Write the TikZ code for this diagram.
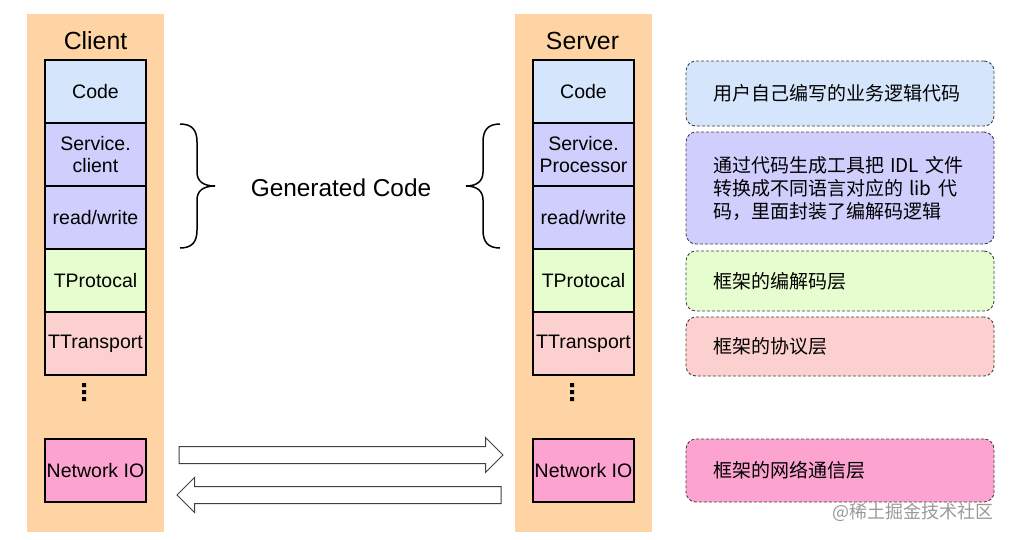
\documentclass[tikz,border=0pt]{standalone}
\usepackage{fontspec}
\setmainfont{Liberation Sans}
\newfontfamily\cjk{Noto Sans CJK SC}
\usetikzlibrary{shapes.arrows}

\definecolor{colbg}{HTML}{FFD4A4}
\definecolor{codeblue}{HTML}{D5E6FC}
\definecolor{genpurple}{HTML}{CFCEFD}
\definecolor{protgreen}{HTML}{E6FDCF}
\definecolor{transpink}{HTML}{FDD0D0}
\definecolor{netpink}{HTML}{FDA3CF}

\tikzset{
	layer/.style={draw, line width=1.4pt, minimum width=101pt, minimum height=63pt, inner sep=0pt, align=center, font=\fontsize{19.5}{22}\selectfont},
	note/.style={draw=black!75, line width=0.9pt, dash pattern=on 3pt off 2pt, rounded corners=10pt, text width=254pt, inner xsep=27pt, inner ysep=0pt, align=left, font=\cjk\fontsize{19}{23}\selectfont},
	blockarrow/.style={single arrow, draw=black!75, fill=white, line width=1pt, minimum height=324pt, inner xsep=0pt, inner ysep=8pt, single arrow head extend=9pt, single arrow head indent=0pt},
}

\begin{document}
\begin{tikzpicture}[x=1pt, y=-1pt]
	\useasboundingbox (0,0) rectangle (1011,539);
	
	% columns
	\node[fill=colbg, minimum width=137pt, minimum height=518pt, inner sep=0pt] (client) at (95.5,273) {};
	\node[fill=colbg, minimum width=137pt, minimum height=518pt, inner sep=0pt] (server) at (583.5,273) {};
	\node[font=\fontsize{24.8}{28}\selectfont] (clientLbl) at (95.5,41) {Client};
	\node[font=\fontsize{24.8}{28}\selectfont] (serverLbl) at (582.5,41) {Server};
	
	% client stack
	\node[layer, fill=codeblue] (cCode) at (95.5,91.5) {Code};
	\node[layer, fill=genpurple] (cSvc) at (95.5,154.5) {Service.\\client};
	\node[layer, fill=genpurple] (cRW) at (95.5,217.5) {read/write};
	\node[layer, fill=protgreen] (cProt) at (95.5,280.5) {TProtocal};
	\node[layer, fill=transpink] (cTrans) at (95.5,343.5) {TTransport};
	\node[layer, fill=netpink] (cNet) at (95.5,470.5) {Network IO};
	
	% server stack
	\node[layer, fill=codeblue] (sCode) at (583.5,91.5) {Code};
	\node[layer, fill=genpurple] (sSvc) at (583.5,154.5) {Service.\\Processor};
	\node[layer, fill=genpurple] (sRW) at (583.5,217.5) {read/write};
	\node[layer, fill=protgreen] (sProt) at (583.5,280.5) {TProtocal};
	\node[layer, fill=transpink] (sTrans) at (583.5,343.5) {TTransport};
	\node[layer, fill=netpink] (sNet) at (583.5,470.5) {Network IO};
	
	% dots
	\fill (82,383) rectangle (86,387) (82,390) rectangle (86,394) (82,397) rectangle (86,401);
	\fill (570,383) rectangle (574,387) (570,390) rectangle (574,394) (570,397) rectangle (574,401);
	
	% braces
	\draw[line width=1.5pt] (180,124) .. controls (192,124) and (197,130) .. (197,142) -- (197,172) .. controls (197,181) and (203,186) .. (215,186) .. controls (203,186) and (197,191) .. (197,200) -- (197,230) .. controls (197,242) and (192,248) .. (180,248);
	\draw[line width=1.5pt] (500,124) .. controls (488,124) and (483,130) .. (483,142) -- (483,172) .. controls (483,181) and (477,186) .. (466,186) .. controls (477,186) and (483,191) .. (483,200) -- (483,230) .. controls (483,242) and (488,248) .. (500,248);
	\node[font=\fontsize{24.4}{28}\selectfont] (gen) at (341,188) {Generated Code};
	
	% network arrows
	\node[blockarrow, anchor=tail] (toServer) at (178.5,455) {};
	\node[blockarrow, shape border rotate=180, anchor=tail] (toClient) at (501.5,495) {};
	
	% notes
	\node[note, fill=codeblue, minimum height=65pt] (n1) at (840,93.5) {用户自己编写的业务逻辑代码};
	\node[note, fill=genpurple, minimum height=112pt] (n2) at (840,188) {通过代码生成工具把 IDL 文件\\转换成不同语言对应的 lib 代\\码，里面封装了编解码逻辑};
	\node[note, fill=protgreen, minimum height=60pt] (n3) at (840,281) {框架的编解码层};
	\node[note, fill=transpink, minimum height=59pt] (n4) at (840,346.5) {框架的协议层};
	\node[note, fill=netpink, minimum height=63pt] (n5) at (840,470.5) {框架的网络通信层};
	
	\node[text=black!40, font=\cjk\fontsize{18}{20}\selectfont] (mark) at (913,512) {@稀土掘金技术社区};
\end{tikzpicture}
\end{document}
